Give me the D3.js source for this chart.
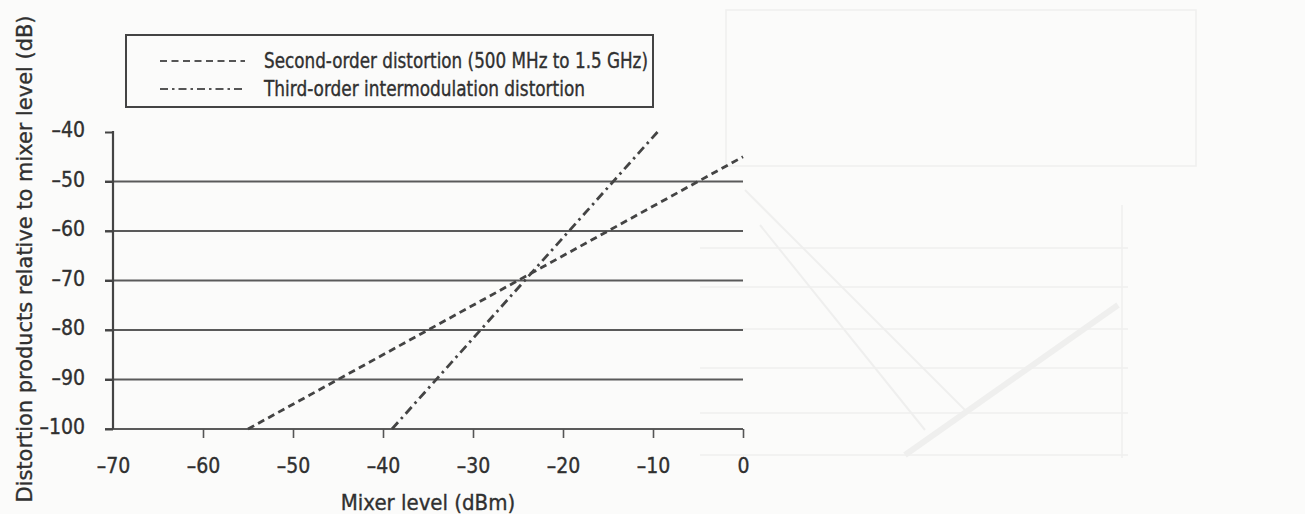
<!DOCTYPE html>
<html>
<head>
<meta charset="utf-8">
<script src="https://cdn.jsdelivr.net/npm/d3@7"></script>
<style>
  html, body { margin: 0; padding: 0; background: #fbfbfa; }
  svg { display: block; }
  .lbl { font-family: "Liberation Sans Narrow", "Arial Narrow", "DejaVu Sans Condensed", sans-serif; font-stretch: condensed; fill: #303030; stroke: #303030; stroke-width: 0.35px; }
</style>
</head>
<body>
<script>
// ---- data ----
const xTicks = [-70, -60, -50, -40, -30, -20, -10, 0];
const yTicks = [-40, -50, -60, -70, -80, -90, -100];
const gridValues = [-50, -60, -70, -80, -90, -100];
const seriesNames = ["Second-order distortion (500 MHz to 1.5 GHz)", "Third-order intermodulation distortion"];
const secondOrderX = [-55, 0];
const secondOrderY = [-100, -45];
const thirdOrderX = [-39, -9.5];
const thirdOrderY = [-100, -40];
const xTitle = "Mixer level (dBm)";
const yTitle = "Distortion products relative to mixer level (dB)";
// faint bleed-through from the facing page (decoration)
const ghostLines = [248, 287, 329, 368, 413, 455];

const W = 1305, H = 514;
const svg = d3.select("body").append("svg").attr("width", W).attr("height", H);

const fmt = d => d < 0 ? "\u2013" + Math.abs(d) : String(d);

// ghost layer
const gg = svg.append("g").attr("stroke", "#efefee").attr("fill", "none");
gg.append("rect").attr("x", 726).attr("y", 10).attr("width", 470).attr("height", 156).attr("stroke-width", 1.5);
gg.selectAll("line.gh").data(ghostLines).join("line")
  .attr("x1", 700).attr("x2", 1128).attr("y1", d => d).attr("y2", d => d).attr("stroke-width", 1.5);
gg.append("line").attr("x1", 1122).attr("x2", 1122).attr("y1", 205).attr("y2", 458).attr("stroke-width", 1.5);
gg.append("line").attr("x1", 905).attr("y1", 455).attr("x2", 1118).attr("y2", 305).attr("stroke-width", 6);
gg.append("line").attr("x1", 745).attr("y1", 190).attr("x2", 965).attr("y2", 410).attr("stroke-width", 2);
gg.append("line").attr("x1", 760).attr("y1", 225).attr("x2", 925).attr("y2", 430).attr("stroke-width", 2);

// scales
const x = d3.scaleLinear().domain([-70, 0]).range([113, 743]);
const y = d3.scaleLinear().domain([-100, -40]).range([429, 132]);

// gridlines
svg.append("g").selectAll("line").data(gridValues).join("line")
  .attr("x1", x(-70) - 8).attr("x2", x(0))
  .attr("y1", d => y(d)).attr("y2", d => y(d))
  .attr("stroke", "#5a5a5a").attr("stroke-width", 2);

// y axis
const yAxis = svg.append("g").attr("transform", `translate(${x(-70)},0)`)
  .call(d3.axisLeft(y).tickValues(yTicks).tickSize(8).tickPadding(20).tickFormat(fmt));
yAxis.select(".domain").remove();
yAxis.selectAll(".tick line").attr("stroke", "#444").attr("stroke-width", 2);
yAxis.append("line").attr("x1", 0).attr("x2", 0).attr("y1", y(-40) - 1).attr("y2", y(-100))
  .attr("stroke", "#444").attr("stroke-width", 2.2);
yAxis.selectAll(".tick text").attr("class", "lbl").attr("font-size", 21).attr("dy", "0.22em");

// x axis
const xAxis = svg.append("g").attr("transform", `translate(0,${y(-100)})`)
  .call(d3.axisBottom(x).tickValues(xTicks).tickSize(9).tickPadding(20).tickFormat(fmt));
xAxis.select(".domain").remove();
xAxis.selectAll(".tick line").attr("stroke", "#555").attr("stroke-width", 1.6)
  .attr("opacity", d => d === -70 ? 0 : 1);
xAxis.selectAll(".tick text").attr("class", "lbl").attr("font-size", 21);

// series lines
const line = d3.line().x(d => x(d[0])).y(d => y(d[1]));
const s2 = secondOrderX.map((v, i) => [v, secondOrderY[i]]);
const s3 = thirdOrderX.map((v, i) => [v, thirdOrderY[i]]);
const dash2 = "7,4.5";
const dash3 = "9,4.5,2.5,4.5";
svg.append("path").datum(s2).attr("d", line).attr("fill", "none")
  .attr("stroke", "#444").attr("stroke-width", 2.8).attr("stroke-dasharray", dash2);
svg.append("path").datum(s3).attr("d", line).attr("fill", "none")
  .attr("stroke", "#444").attr("stroke-width", 2.8).attr("stroke-dasharray", dash3);

// legend
const lg = svg.append("g");
lg.append("rect").attr("x", 126).attr("y", 35).attr("width", 527).attr("height", 72)
  .attr("fill", "none").attr("stroke", "#444").attr("stroke-width", 2);
const legendWidths = [384, 321];
seriesNames.forEach((name, i) => {
  const yy = 61 + i * 28;
  lg.append("line").attr("x1", 160).attr("x2", 245).attr("y1", yy).attr("y2", yy)
    .attr("stroke", "#555").attr("stroke-width", 2.2).attr("stroke-dasharray", i === 0 ? "7,4.5" : "8,4,2.5,4");
  lg.append("text").attr("class", "lbl").attr("x", 264).attr("y", yy + 6.5)
    .attr("font-size", 20.5)
    .attr("textLength", legendWidths[i]).attr("lengthAdjust", "spacingAndGlyphs")
    .text(name);
});

// titles
svg.append("text").attr("class", "lbl").attr("x", x(-35)).attr("y", 510)
  .attr("text-anchor", "middle").attr("font-size", 22).text(xTitle);
svg.append("text").attr("class", "lbl")
  .attr("transform", `translate(32,259) rotate(-90)`)
  .attr("text-anchor", "middle").attr("font-size", 22)
  .attr("textLength", 487).attr("lengthAdjust", "spacingAndGlyphs")
  .text(yTitle);
</script>
</body>
</html>
